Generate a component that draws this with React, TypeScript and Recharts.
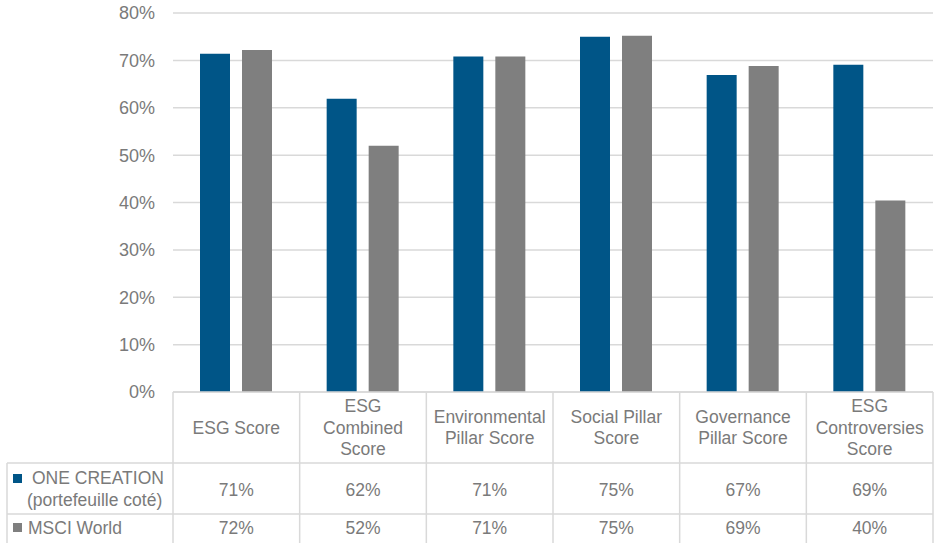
import { BarChart, Bar, XAxis, YAxis, CartesianGrid } from "recharts";

const categories = [
  "ESG Score",
  "ESG Combined Score",
  "Environmental Pillar Score",
  "Social Pillar Score",
  "Governance Pillar Score",
  "ESG Controversies Score",
];
// how the category names wrap inside the table header cells
const headerLines = [
  ["ESG Score"],
  ["ESG", "Combined", "Score"],
  ["Environmental", "Pillar Score"],
  ["Social Pillar", "Score"],
  ["Governance", "Pillar Score"],
  ["ESG", "Controversies", "Score"],
];
const oneCreation = [71.4, 61.9, 70.8, 75.0, 66.9, 69.1];
const msciWorld = [72.2, 52.0, 70.8, 75.2, 68.8, 40.4];
const seriesLabels = [["ONE CREATION", "(portefeuille coté)"], ["MSCI World"]];
const yTicks = [0, 10, 20, 30, 40, 50, 60, 70, 80];

const W = 937;
const H = 543;
const LEFT = 173;
const RIGHT = 933;
const TOP = 13;
const BOTTOM = 392;
const ROW1 = 463;
const ROW2 = 514;
const TABLE_LEFT = 7;
const BAND = (RIGHT - LEFT) / categories.length;

const BLUE = "#005587";
const GRAY = "#7f7f7f";
const LINE = "#d9d9d9";
const TEXT = "#7a7a7a";
const FONT = "'Liberation Sans', Arial, sans-serif";

const data = categories.map((c, i) => ({ name: c, one: oneCreation[i], msci: msciWorld[i] }));

const txt = { fill: TEXT, fontSize: 17.5, fontFamily: FONT, textAnchor: "middle" as const, dominantBaseline: "central" as const };

const TableTick = (props: any) => {
  const { x, payload } = props;
  const i = props.index ?? payload.index;
  const half = BAND / 2;
  const lines = headerLines[i];
  const lh = 21.5;
  const y0 = (BOTTOM + ROW1) / 2 - ((lines.length - 1) * lh) / 2;
  return (
    <g>
      {i === 0 && (
        <g>
          <line x1={LEFT} x2={RIGHT} y1={BOTTOM} y2={BOTTOM} stroke={LINE} strokeWidth={1.5} />
          <line x1={TABLE_LEFT} x2={RIGHT} y1={ROW1} y2={ROW1} stroke={LINE} strokeWidth={1.5} />
          <line x1={TABLE_LEFT} x2={RIGHT} y1={ROW2} y2={ROW2} stroke={LINE} strokeWidth={1.5} />
          <line x1={TABLE_LEFT} x2={TABLE_LEFT} y1={ROW1} y2={H} stroke={LINE} strokeWidth={1.5} />
          <line x1={x - half} x2={x - half} y1={BOTTOM} y2={H} stroke={LINE} strokeWidth={1.5} />
          <rect x={13} y={474} width={9} height={9} fill={BLUE} />
          <text {...txt} textAnchor="start" x={32} y={478}>{seriesLabels[0][0]}</text>
          <text {...txt} textAnchor="start" x={27} y={500}>{seriesLabels[0][1]}</text>
          <rect x={13} y={523} width={9} height={9} fill={GRAY} />
          <text {...txt} textAnchor="start" x={28} y={528}>{seriesLabels[1][0]}</text>
        </g>
      )}
      <line x1={x + half} x2={x + half} y1={BOTTOM} y2={H} stroke={LINE} strokeWidth={1.5} />
      {lines.map((l, k) => (
        <text key={k} {...txt} x={x} y={y0 + k * lh}>{l}</text>
      ))}
      <text {...txt} x={x} y={(ROW1 + ROW2) / 2 + 1}>{Math.round(oneCreation[i])}%</text>
      <text {...txt} x={x} y={528}>{Math.round(msciWorld[i])}%</text>
    </g>
  );
};

export default function App() {
  return (
    <div style={{ position: "absolute", left: 0, top: 0, width: W, height: H, background: "#fff" }}>
      <BarChart width={W} height={H} data={data} margin={{ top: TOP, right: W - RIGHT, bottom: 0, left: 0 }} barSize={30} barGap={12}>
        <CartesianGrid vertical={false} stroke={LINE} strokeWidth={1.5} />
        <YAxis
          width={LEFT}
          domain={[0, 80]}
          ticks={yTicks}
          tickFormatter={(v) => `${v}%`}
          axisLine={false}
          tickLine={false}
          tickSize={0}
          tickMargin={18}
          tick={{ fill: TEXT, fontSize: 18, fontFamily: FONT }}
        />
        <XAxis dataKey="name" height={H - BOTTOM} axisLine={false} tickLine={false} interval={0} tick={<TableTick />} />
        <Bar dataKey="one" fill={BLUE} isAnimationActive={false} />
        <Bar dataKey="msci" fill={GRAY} isAnimationActive={false} />
      </BarChart>
    </div>
  );
}
